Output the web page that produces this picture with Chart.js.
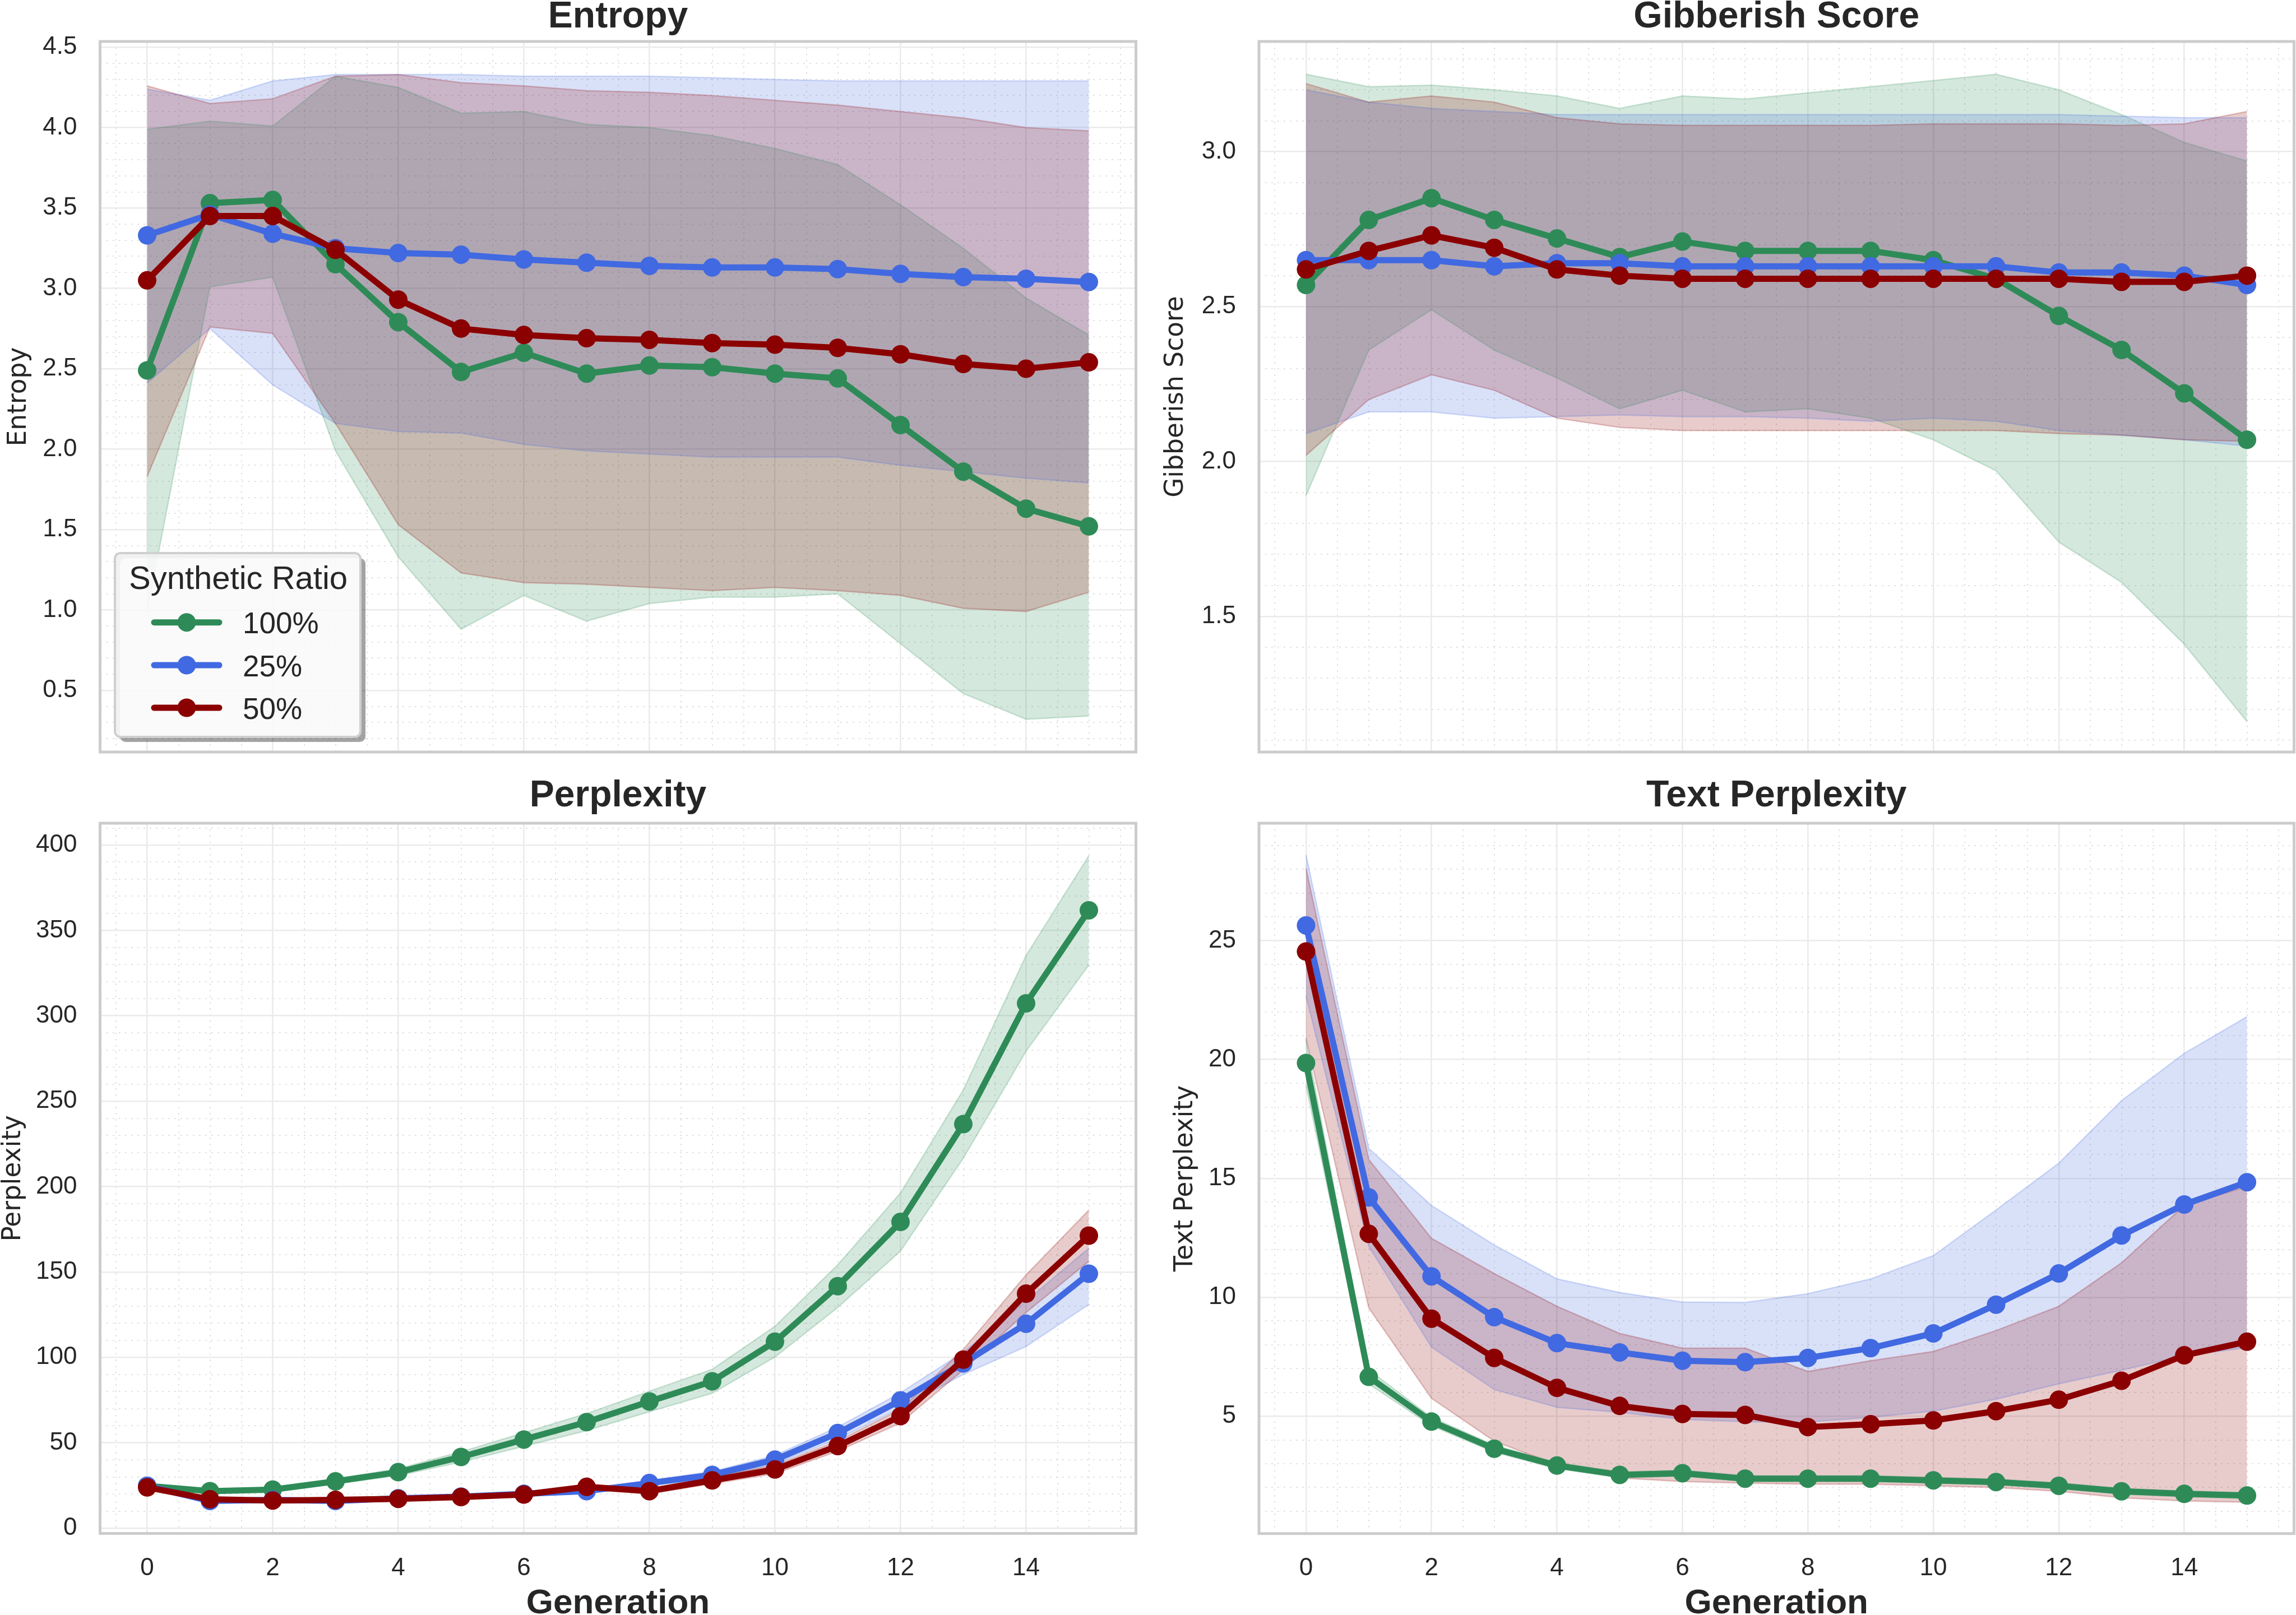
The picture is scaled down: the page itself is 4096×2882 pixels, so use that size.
<!DOCTYPE html>
<html>
<head>
<meta charset="utf-8">
<script src="https://cdn.jsdelivr.net/npm/chart.js@4.4.1/dist/chart.umd.min.js"></script>
<style>
  html, body { margin: 0; padding: 0; background: #fff; }
  #wrap { position: relative; width: 4096px; height: 2882px; overflow: hidden; background: #fff; }
  canvas { position: absolute; }
</style>
</head>
<body>
<div id="wrap">
  <canvas id="cEntropy"></canvas>
  <canvas id="cGibberish"></canvas>
  <canvas id="cPerplexity"></canvas>
  <canvas id="cTextPpl"></canvas>
</div>
<script>
// ---- data ----
const generations = [0, 1, 2, 3, 4, 5, 6, 7, 8, 9, 10, 11, 12, 13, 14, 15];
const xTicks = [0, 2, 4, 6, 8, 10, 12, 14];
const seriesLabels = ['100%', '25%', '50%'];
const seriesColors = ['#2E8B57', '#4169E1', '#8B0000'];

// Entropy
const entropyMean100  = [2.49, 3.53, 3.55, 3.15, 2.79, 2.48, 2.60, 2.47, 2.52, 2.51, 2.47, 2.44, 2.15, 1.86, 1.63, 1.52];
const entropyUpper100 = [3.99, 4.04, 4.01, 4.32, 4.25, 4.09, 4.10, 4.02, 4.00, 3.95, 3.87, 3.77, 3.52, 3.25, 2.94, 2.71];
const entropyLower100 = [0.99, 3.01, 3.07, 1.99, 1.33, 0.88, 1.09, 0.93, 1.04, 1.08, 1.08, 1.10, 0.79, 0.48, 0.32, 0.34];
const entropyMean25   = [3.33, 3.46, 3.34, 3.25, 3.22, 3.21, 3.18, 3.16, 3.14, 3.13, 3.13, 3.12, 3.09, 3.07, 3.06, 3.04];
const entropyUpper25  = [4.24, 4.17, 4.29, 4.33, 4.33, 4.33, 4.32, 4.32, 4.32, 4.31, 4.30, 4.29, 4.29, 4.29, 4.29, 4.29];
const entropyLower25  = [2.41, 2.75, 2.40, 2.16, 2.11, 2.10, 2.03, 1.99, 1.97, 1.95, 1.95, 1.95, 1.90, 1.86, 1.82, 1.79];
const entropyMean50   = [3.05, 3.45, 3.45, 3.24, 2.93, 2.75, 2.71, 2.69, 2.68, 2.66, 2.65, 2.63, 2.59, 2.53, 2.50, 2.54];
const entropyUpper50  = [4.26, 4.15, 4.18, 4.32, 4.33, 4.28, 4.26, 4.23, 4.22, 4.20, 4.17, 4.14, 4.10, 4.06, 4.00, 3.98];
const entropyLower50  = [1.83, 2.76, 2.72, 2.16, 1.53, 1.23, 1.17, 1.16, 1.14, 1.12, 1.14, 1.12, 1.09, 1.01, 0.99, 1.11];
const entropyYTicks = [0.5, 1.0, 1.5, 2.0, 2.5, 3.0, 3.5, 4.0, 4.5];
const entropyYLabels = ['0.5', '1.0', '1.5', '2.0', '2.5', '3.0', '3.5', '4.0', '4.5'];

// Gibberish score
const gibMean100  = [2.57, 2.78, 2.85, 2.78, 2.72, 2.66, 2.71, 2.68, 2.68, 2.68, 2.65, 2.59, 2.47, 2.36, 2.22, 2.07];
const gibUpper100 = [3.25, 3.21, 3.215, 3.20, 3.18, 3.14, 3.18, 3.17, 3.19, 3.21, 3.23, 3.25, 3.20, 3.12, 3.03, 2.97];
const gibLower100 = [1.89, 2.36, 2.49, 2.36, 2.27, 2.17, 2.23, 2.16, 2.17, 2.14, 2.07, 1.97, 1.74, 1.61, 1.41, 1.16];
const gibMean25   = [2.65, 2.65, 2.65, 2.63, 2.64, 2.64, 2.63, 2.63, 2.63, 2.63, 2.63, 2.63, 2.61, 2.61, 2.60, 2.57];
const gibUpper25  = [3.20, 3.16, 3.14, 3.13, 3.12, 3.12, 3.12, 3.12, 3.12, 3.12, 3.12, 3.12, 3.12, 3.115, 3.11, 3.11];
const gibLower25  = [2.09, 2.16, 2.16, 2.14, 2.145, 2.15, 2.145, 2.145, 2.14, 2.13, 2.14, 2.13, 2.10, 2.085, 2.07, 2.05];
const gibMean50   = [2.62, 2.68, 2.73, 2.69, 2.62, 2.60, 2.59, 2.59, 2.59, 2.59, 2.59, 2.59, 2.59, 2.58, 2.58, 2.60];
const gibUpper50  = [3.22, 3.16, 3.18, 3.16, 3.11, 3.09, 3.085, 3.085, 3.085, 3.085, 3.09, 3.09, 3.09, 3.085, 3.09, 3.13];
const gibLower50  = [2.02, 2.20, 2.28, 2.23, 2.14, 2.11, 2.10, 2.10, 2.10, 2.10, 2.10, 2.10, 2.09, 2.085, 2.07, 2.065];
const gibYTicks = [1.5, 2.0, 2.5, 3.0];
const gibYLabels = ['1.5', '2.0', '2.5', '3.0'];

// Perplexity
const pplMean100  = [24.8, 21.7, 22.6, 27.4, 32.8, 41.7, 51.9, 62.1, 74.2, 86.0, 109.2, 141.7, 179.3, 236.6, 307.3, 361.8];
const pplUpper100 = [25.8, 22.7, 23.6, 28.9, 34.8, 44.7, 55.9, 67.1, 80.2, 93.0, 118.2, 154.2, 196.3, 256.6, 335.3, 393.8];
const pplLower100 = [23.8, 20.7, 21.6, 25.9, 30.8, 38.7, 47.9, 57.1, 68.2, 79.0, 100.2, 129.2, 162.3, 216.6, 279.3, 329.8];
const pplMean25   = [24.8, 15.9, 16.6, 15.9, 17.5, 18.5, 20.1, 21.7, 26.4, 31.2, 40.1, 55.7, 74.8, 96.5, 119.7, 149.0];
const pplUpper25  = [25.8, 16.9, 17.6, 16.9, 18.5, 19.5, 21.1, 22.7, 27.9, 33.2, 42.6, 59.2, 79.3, 103.0, 133.0, 164.0];
const pplLower25  = [23.8, 14.9, 15.6, 14.9, 16.5, 17.5, 19.1, 20.7, 24.9, 29.2, 37.6, 52.2, 70.3, 90.0, 106.4, 131.0];
const pplMean50   = [23.9, 16.9, 16.2, 16.6, 17.2, 18.2, 19.7, 24.2, 21.7, 28.0, 34.4, 48.1, 65.6, 98.7, 137.3, 171.3];
const pplUpper50  = [24.9, 17.9, 17.2, 17.6, 18.2, 19.2, 20.7, 25.7, 23.2, 30.0, 36.9, 51.1, 69.6, 104.7, 148.3, 186.3];
const pplLower50  = [22.9, 15.9, 15.2, 15.6, 16.2, 17.2, 18.7, 22.7, 20.2, 26.0, 31.9, 45.1, 61.6, 92.7, 126.3, 156.3];
const pplYTicks = [0, 50, 100, 150, 200, 250, 300, 350, 400];
const pplYLabels = ['0', '50', '100', '150', '200', '250', '300', '350', '400'];

// Text perplexity
const tpplMean100  = [19.85, 6.65, 4.77, 3.63, 2.92, 2.53, 2.60, 2.37, 2.37, 2.37, 2.30, 2.23, 2.07, 1.84, 1.73, 1.66];
const tpplUpper100 = [20.8, 6.95, 4.95, 3.78, 3.05, 2.65, 2.72, 2.49, 2.49, 2.49, 2.42, 2.35, 2.19, 1.96, 1.85, 1.78];
const tpplLower100 = [18.9, 6.35, 4.59, 3.48, 2.79, 2.41, 2.48, 2.25, 2.25, 2.25, 2.18, 2.11, 1.95, 1.72, 1.61, 1.54];
const tpplMean25   = [25.64, 14.2, 10.88, 9.16, 8.07, 7.68, 7.33, 7.27, 7.45, 7.86, 8.48, 9.69, 11.0, 12.6, 13.9, 14.84];
const tpplUpper25  = [28.6, 16.26, 13.86, 12.2, 10.77, 10.2, 9.8, 9.78, 10.15, 10.77, 11.75, 13.67, 15.64, 18.27, 20.26, 21.8];
const tpplLower25  = [22.67, 12.14, 7.9, 6.12, 5.37, 5.16, 4.86, 4.76, 4.75, 4.95, 5.21, 5.71, 6.36, 6.93, 7.54, 7.88];
const tpplMean50   = [24.54, 12.67, 9.1, 7.45, 6.19, 5.43, 5.09, 5.05, 4.54, 4.66, 4.82, 5.21, 5.69, 6.49, 7.56, 8.13];
const tpplUpper50  = [28.04, 15.8, 12.48, 11.0, 9.62, 8.48, 7.86, 7.86, 6.88, 7.33, 7.72, 8.6, 9.62, 11.45, 13.86, 14.66];
const tpplLower50  = [20.9, 9.55, 5.75, 3.95, 2.95, 2.4, 2.25, 2.18, 2.14, 2.14, 2.07, 2.0, 1.84, 1.57, 1.43, 1.38];
const tpplYTicks = [5, 10, 15, 20, 25];
const tpplYLabels = ['5', '10', '15', '20', '25'];

// ---- styling ----
const TXT = '#262626';
const SANS = '"Liberation Sans", Arial, sans-serif';
const DEJAVU = '"DejaVu Sans", sans-serif';
const MAJOR_GRID = '#ebebeb';
const MINOR_GRID = '#e0e0e0';

function rgba(hex, a) {
  const n = parseInt(hex.slice(1), 16);
  return `rgba(${(n >> 16) & 255},${(n >> 8) & 255},${n & 255},${a})`;
}

function pts(arr) {
  return generations.map((g, i) => ({ x: g, y: arr[i] }));
}

// minor grid positions between majors (grid only, not data)
function minorGrid(min, max, step, majors) {
  const out = [];
  const start = Math.ceil(min / step - 1e-9);
  for (let k = start; k * step <= max + 1e-9; k++) {
    const v = +(k * step).toFixed(6);
    if (!majors.some(m => Math.abs(m - v) < 1e-6)) out.push(v);
  }
  return out;
}

function buildDatasets(means, uppers, lowers) {
  const ds = [];
  seriesLabels.forEach((label, i) => {
    const c = seriesColors[i];
    const bandOrder = 30 - i * 2;
    ds.push({ label: label + ' upper', data: pts(uppers[i]), borderColor: rgba(c, 0.22), borderWidth: 2.5,
      pointRadius: 0, pointHoverRadius: 0, fill: false, order: bandOrder });
    ds.push({ label: label + ' lower', data: pts(lowers[i]), borderColor: rgba(c, 0.22), borderWidth: 2.5,
      pointRadius: 0, pointHoverRadius: 0, backgroundColor: rgba(c, 0.2), fill: '-1', order: bandOrder - 1 });
  });
  seriesLabels.forEach((label, i) => {
    const c = seriesColors[i];
    ds.push({ label, isSeries: true, data: pts(means[i]), borderColor: c, backgroundColor: c,
      borderWidth: 11, borderJoinStyle: 'round', borderCapStyle: 'round',
      pointRadius: 16.5, pointHoverRadius: 16.5, pointBorderWidth: 0, pointBackgroundColor: c,
      fill: false, order: 3 - i });
  });
  return ds;
}

// frame around plot area
const framePlugin = {
  id: 'frame',
  afterDatasetsDraw(chart) {
    const { ctx, chartArea: a } = chart;
    ctx.save();
    ctx.strokeStyle = '#cccccc';
    ctx.lineWidth = 5;
    ctx.strokeRect(a.left, a.top, a.right - a.left, a.bottom - a.top);
    ctx.restore();
  }
};

function roundRectPath(ctx, x, y, w, h, r) {
  ctx.moveTo(x + r, y);
  ctx.lineTo(x + w - r, y);
  ctx.arcTo(x + w, y, x + w, y + r, r);
  ctx.lineTo(x + w, y + h - r);
  ctx.arcTo(x + w, y + h, x + w - r, y + h, r);
  ctx.lineTo(x + r, y + h);
  ctx.arcTo(x, y + h, x, y + h - r, r);
  ctx.lineTo(x, y + r);
  ctx.arcTo(x, y, x + r, y, r);
  ctx.closePath();
}

// boxed legend with title, lower-left inside plot
const ratioLegend = {
  id: 'ratioLegend',
  afterDraw(chart, args, opts) {
    if (!opts || !opts.show) return;
    const { ctx, chartArea: a } = chart;
    const w = 438, h = 328, r = 10;
    const x = a.left + 26.5, y = a.bottom - 27 - h;
    ctx.save();
    // shadow outside the box only
    ctx.beginPath();
    roundRectPath(ctx, x + 9, y + 9, w, h, r);
    roundRectPath(ctx, x, y, w, h, r);
    ctx.fillStyle = 'rgba(0,0,0,0.36)';
    ctx.fill('evenodd');
    ctx.beginPath();
    roundRectPath(ctx, x, y, w, h, r);
    ctx.fillStyle = 'rgba(249,249,249,0.9)';
    ctx.fill();
    ctx.strokeStyle = '#cfcfcf';
    ctx.lineWidth = 4;
    ctx.stroke();

    ctx.fillStyle = TXT;
    ctx.textBaseline = 'alphabetic';
    ctx.textAlign = 'left';
    ctx.font = '58px ' + SANS;
    ctx.fillText(opts.title, x + 25, y + 64);

    const items = chart.data.datasets.filter(d => d.isSeries);
    const rows = [123.7, 200, 276];
    items.forEach((d, i) => {
      const cy = y + rows[i];
      ctx.strokeStyle = d.borderColor;
      ctx.lineWidth = 11;
      ctx.lineCap = 'round';
      ctx.beginPath();
      ctx.moveTo(x + 70, cy);
      ctx.lineTo(x + 186, cy);
      ctx.stroke();
      ctx.fillStyle = d.borderColor;
      ctx.beginPath();
      ctx.arc(x + 128, cy, 16.5, 0, Math.PI * 2);
      ctx.fill();
      ctx.fillStyle = TXT;
      ctx.font = '53px ' + SANS;
      ctx.fillText(d.label, x + 228, cy + 19.5);
    });
    ctx.restore();
  }
};

function makePanel(id, p) {
  const cv = document.getElementById(id);
  cv.width = p.width; cv.height = p.height;
  cv.style.left = p.left + 'px'; cv.style.top = p.top + 'px';
  cv.style.width = p.width + 'px'; cv.style.height = p.height + 'px';

  const xMinor = minorGrid(-0.75, 15.75, 0.5, xTicks);
  const yMinor = minorGrid(p.yMin, p.yMax, p.yMinorStep, p.yTicks);

  new Chart(cv.getContext('2d'), {
    type: 'line',
    data: { datasets: buildDatasets(p.means, p.uppers, p.lowers) },
    plugins: [framePlugin, ratioLegend],
    options: {
      responsive: false,
      animation: false,
      devicePixelRatio: 1,
      events: [],
      layout: { autoPadding: false, padding: { left: 0, right: p.padRight, top: 0, bottom: 0 } },
      plugins: {
        legend: { display: false },
        tooltip: { enabled: false },
        filler: { drawTime: 'beforeDatasetsDraw' },
        title: {
          display: true, fullSize: false, text: p.title, color: TXT,
          font: { family: SANS, size: 66, weight: 'bold', lineHeight: 0.9 },
          padding: p.titlePad
        },
        ratioLegend: { show: !!p.legend, title: 'Synthetic Ratio' }
      },
      scales: {
        x: {
          type: 'linear', min: -0.75, max: 15.75, position: 'bottom',
          afterBuildTicks: s => { s.ticks = xTicks.map(v => ({ value: v })); },
          afterFit: s => { s.height = p.xAxisH; },
          grid: { color: MAJOR_GRID, lineWidth: 2.6, drawTicks: false },
          border: { display: false },
          ticks: { display: p.showX, autoSkip: false, maxRotation: 0, padding: 36, color: TXT,
            font: { family: SANS, size: 44 }, callback: (v, i) => String(xTicks[i]) },
          title: { display: p.showX, text: 'Generation', color: TXT,
            font: { family: SANS, size: 62, weight: 'bold', lineHeight: 0.8 }, padding: { top: 0, bottom: -5 } }
        },
        xMinor: {
          type: 'linear', min: -0.75, max: 15.75, position: 'bottom',
          afterBuildTicks: s => { s.ticks = xMinor.map(v => ({ value: v })); },
          afterFit: s => { s.height = 0; },
          grid: { color: MINOR_GRID, lineWidth: 2, drawTicks: false },
          border: { display: false, dash: [2.7, 8.3] },
          ticks: { display: false }
        },
        y: {
          type: 'linear', min: p.yMin, max: p.yMax, position: 'left',
          afterBuildTicks: s => { s.ticks = p.yTicks.map(v => ({ value: v })); },
          afterFit: s => { s.width = p.yAxisW; },
          grid: { color: MAJOR_GRID, lineWidth: 2.6, drawTicks: false },
          border: { display: false },
          ticks: { autoSkip: false, padding: 41, color: TXT, font: { family: SANS, size: 44 },
            callback: (v, i) => p.yLabels[i] },
          title: { display: true, text: p.yTitle, color: TXT,
            font: { family: DEJAVU, size: 45.5 }, padding: { top: p.yTitlePad, bottom: 0 } }
        },
        yMinor: {
          type: 'linear', min: p.yMin, max: p.yMax, position: 'left',
          afterBuildTicks: s => { s.ticks = yMinor.map(v => ({ value: v })); },
          afterFit: s => { s.width = 0; },
          grid: { color: MINOR_GRID, lineWidth: 2, drawTicks: false },
          border: { display: false, dash: [2.7, 8.3] },
          ticks: { display: false }
        }
      }
    }
  });
}

// top panels: canvas taller than the plot so the tick-label overhang fits below it
makePanel('cEntropy', {
  left: 0, top: 0, width: 2048, height: 1412, padRight: 21.5, yAxisW: 178.5, xAxisH: 70,
  titlePad: { top: 1.3, bottom: 13.3 }, yTitlePad: 6.6, showX: false, legend: true,
  title: 'Entropy', yTitle: 'Entropy', yMin: 0.116, yMax: 4.536, yMinorStep: 0.1,
  yTicks: entropyYTicks, yLabels: entropyYLabels,
  means: [entropyMean100, entropyMean25, entropyMean50],
  uppers: [entropyUpper100, entropyUpper25, entropyUpper50],
  lowers: [entropyLower100, entropyLower25, entropyLower50]
});

makePanel('cGibberish', {
  left: 2048, top: 0, width: 2048, height: 1412, padRight: 3.5, yAxisW: 198, xAxisH: 70,
  titlePad: { top: 1.3, bottom: 13.3 }, yTitlePad: 22.6, showX: false,
  title: 'Gibberish Score', yTitle: 'Gibberish Score', yMin: 1.062, yMax: 3.356, yMinorStep: 0.1,
  yTicks: gibYTicks, yLabels: gibYLabels,
  means: [gibMean100, gibMean25, gibMean50],
  uppers: [gibUpper100, gibUpper25, gibUpper50],
  lowers: [gibLower100, gibLower25, gibLower50]
});

makePanel('cPerplexity', {
  left: 0, top: 1360, width: 2048, height: 1522, padRight: 21.5, yAxisW: 178.5, xAxisH: 145.5,
  titlePad: { top: 31.3, bottom: 18.3 }, yTitlePad: -3.4, showX: true,
  title: 'Perplexity', yTitle: 'Perplexity', yMin: -3.1, yMax: 412.8, yMinorStep: 10,
  yTicks: pplYTicks, yLabels: pplYLabels,
  means: [pplMean100, pplMean25, pplMean50],
  uppers: [pplUpper100, pplUpper25, pplUpper50],
  lowers: [pplLower100, pplLower25, pplLower50]
});

makePanel('cTextPpl', {
  left: 2048, top: 1360, width: 2048, height: 1522, padRight: 3.5, yAxisW: 198, xAxisH: 145.3,
  titlePad: { top: 31.3, bottom: 18.3 }, yTitlePad: 39.6, showX: true,
  title: 'Text Perplexity', yTitle: 'Text Perplexity', yMin: 0.06, yMax: 29.94, yMinorStep: 1,
  yTicks: tpplYTicks, yLabels: tpplYLabels,
  means: [tpplMean100, tpplMean25, tpplMean50],
  uppers: [tpplUpper100, tpplUpper25, tpplUpper50],
  lowers: [tpplLower100, tpplLower25, tpplLower50]
});
</script>
</body>
</html>
